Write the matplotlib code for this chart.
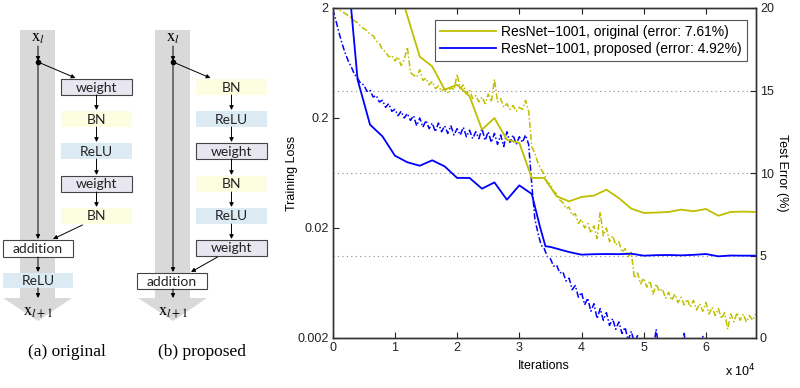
import numpy as np
import matplotlib
matplotlib.use("Agg")
import matplotlib.pyplot as plt
from matplotlib.patches import Rectangle, Polygon

# ---------------- data ----------------
# test error (%) — right axis, sampled every 2000 iterations (x in units of 1e4)
orig_err_x = [0.8, 1.0, 1.4, 1.6, 1.8, 2.0, 2.2, 2.4, 2.6, 2.8, 3.0, 3.2, 3.4, 3.6, 3.8,
              4.0, 4.2, 4.4, 4.6, 4.8, 5.0, 5.2, 5.4, 5.6, 5.8, 6.0, 6.2, 6.4, 6.6, 6.8]
orig_err = [26.0, 22.0, 17.05, 16.46, 15.05, 15.35, 14.65, 12.63, 13.33, 12.02, 11.82, 9.70,
            9.70, 8.59, 8.28, 8.55, 8.63, 8.99, 8.48, 7.84, 7.58, 7.60, 7.64, 7.78, 7.68,
            7.82, 7.41, 7.64, 7.66, 7.64]
prop_err_x = [0.2, 0.4, 0.6, 0.8, 1.0, 1.2, 1.4, 1.6, 1.8, 2.0, 2.2, 2.4, 2.6, 2.8, 3.0,
              3.2, 3.33, 3.42, 3.5, 3.8, 4.0, 4.2, 4.4, 4.6, 4.8, 5.0, 5.2, 5.4, 5.6, 5.8,
              6.0, 6.2, 6.4, 6.6, 6.8]
prop_err = [24.0, 15.66, 12.93, 12.22, 11.05, 10.65, 10.44, 10.77, 10.40, 9.70, 9.70, 9.05,
            9.43, 8.38, 9.25, 8.73, 6.77, 5.56, 5.52, 5.21, 5.05, 5.08, 5.09, 5.08, 5.11,
            4.99, 5.02, 5.03, 5.01, 5.04, 5.09, 4.95, 5.00, 4.99, 4.99]

# training loss — left (log) axis, every 500 iterations
loss_iters = np.arange(137) * 500
orig_loss = [2.10, 2.00, 1.93, 1.86, 1.78, 1.70, 1.63, 1.52, 1.47, 1.36,
             1.30, 1.25, 1.15, 1.12, 1.00, 0.95, 0.84, 0.80, 0.72, 0.74,
             0.66, 0.72, 0.60, 0.68, 0.88, 0.52, 0.49, 0.47, 0.55, 0.44,
             0.46, 0.40, 0.43, 0.37, 0.39, 0.35, 0.37, 0.34, 0.38, 0.36,
             0.50, 0.37, 0.40, 0.33, 0.36, 0.30, 0.32, 0.28, 0.31, 0.27,
             0.33, 0.28, 0.45, 0.28, 0.30, 0.25, 0.27, 0.24, 0.26, 0.23,
             0.25, 0.24, 0.29, 0.23, 0.11, 0.095, 0.078, 0.068, 0.062, 0.052,
             0.050, 0.043, 0.041, 0.036, 0.034, 0.030, 0.031, 0.026, 0.027, 0.022,
             0.024, 0.020, 0.022, 0.018, 0.021, 0.016, 0.028, 0.017, 0.020, 0.015,
             0.017, 0.014, 0.015, 0.012, 0.013, 0.011, 0.012, 0.0070, 0.0078, 0.0062,
             0.0070, 0.0058, 0.0066, 0.0050, 0.0062, 0.0053, 0.0056, 0.0046, 0.0052, 0.0044,
             0.0050, 0.0042, 0.0047, 0.0040, 0.0045, 0.0038, 0.0044, 0.0036, 0.0041, 0.0035,
             0.0042, 0.0033, 0.0038, 0.0032, 0.0037, 0.0030, 0.0034, 0.0024, 0.0033, 0.0028,
             0.0034, 0.0029, 0.0033, 0.0028, 0.0032, 0.0029, 0.0033]
prop_loss = [1.95, 1.55, 1.20, 0.95, 0.78, 0.66, 0.58, 0.50, 0.46, 0.41,
             0.40, 0.35, 0.36, 0.31, 0.32, 0.28, 0.29, 0.25, 0.27, 0.23,
             0.24, 0.21, 0.23, 0.20, 0.22, 0.19, 0.21, 0.17, 0.20, 0.165,
             0.19, 0.16, 0.18, 0.15, 0.18, 0.15, 0.17, 0.145, 0.17, 0.14,
             0.16, 0.14, 0.165, 0.135, 0.155, 0.13, 0.15, 0.13, 0.16, 0.125,
             0.15, 0.12, 0.145, 0.115, 0.14, 0.11, 0.15, 0.12, 0.14, 0.115,
             0.135, 0.12, 0.14, 0.115, 0.05, 0.024, 0.018, 0.014, 0.013, 0.011,
             0.0105, 0.0090, 0.0092, 0.0078, 0.0080, 0.0066, 0.0070, 0.0055, 0.0060, 0.0047,
             0.0052, 0.0040, 0.0046, 0.0035, 0.0041, 0.0030, 0.0037, 0.0029, 0.0034, 0.0026,
             0.0030, 0.0024, 0.0028, 0.0022, 0.0025, 0.0019, 0.0023, 0.0018, 0.0021, 0.0017,
             0.0019, 0.0016, 0.0018, 0.0015, 0.0024, 0.0015, 0.0017, 0.0014, 0.0016, 0.0013,
             0.0016, 0.0013, 0.0015, 0.0022, 0.0014, 0.0012, 0.0015, 0.0012, 0.0014, 0.0021,
             0.0013, 0.0011, 0.0014, 0.0011, 0.0013, 0.0011, 0.0013, 0.0010, 0.0012, 0.0010,
             0.0012, 0.0010, 0.0012, 0.0010, 0.0011, 0.0010, 0.0011]

x_ticks = [0, 1, 2, 3, 4, 5, 6]
loss_ticks = [0.002, 0.02, 0.2, 2]
loss_ticklabels = ["0.002", "0.02", "0.2", "2"]
err_ticks = [0, 5, 10, 15, 20]
legend_labels = ["ResNet\u22121001, original (error: 7.61%)",
                 "ResNet\u22121001, proposed (error: 4.92%)"]

YEL = "#bfbf00"
BLU = "#0000ff"

W, H = 800, 388
fig = plt.figure(figsize=(W / 100, H / 100), dpi=100)

# ---------------- diagrams (pixel coordinates) ----------------
dax = fig.add_axes([0, 0, 1, 1])
dax.set_xlim(0, W)
dax.set_ylim(H, 0)
dax.axis("off")

SHAFT = "#d9d9d9"
C_W = "#e8e6f0"
C_BN = "#fdfde2"
C_RE = "#dcebf3"
boxfont = dict(family="Lato", fontsize=10, color="#222222", ha="center", va="center")


def arrow(x0, y0, x1, y1):
    dax.annotate("", xy=(x1, y1), xytext=(x0, y0),
                 arrowprops=dict(arrowstyle="-|>", lw=0.7, color="k",
                                 mutation_scale=6, shrinkA=0, shrinkB=0))


def box(x0, x1, y0, y1, kind):
    col = {"weight": C_W, "BN": C_BN, "ReLU": C_RE, "addition": "white"}[kind]
    edge = kind in ("weight", "addition")
    dax.add_patch(Rectangle((x0, y0), x1 - x0, y1 - y0, facecolor=col,
                            edgecolor="#444444" if edge else "none", lw=0.8))
    dax.text((x0 + x1) / 2, (y0 + y1) / 2 + 0.5, kind, **boxfont)


def diagram(dx, kinds, caption):
    cx = 38 + dx
    # shaft + big arrow head
    dax.add_patch(Rectangle((20 + dx, 30), 35, 268, facecolor=SHAFT, edgecolor="none"))
    dax.add_patch(Polygon([(3 + dx, 298), (72 + dx, 298), (cx, 321)],
                          closed=True, facecolor=SHAFT, edgecolor="none"))
    dax.text(cx, 37, r"$\mathrm{x}_{l}$", ha="center", va="center", fontsize=12,
             math_fontfamily="stix")
    dax.text(cx, 311, r"$\mathrm{x}_{l+1}$", ha="center", va="center", fontsize=12,
             math_fontfamily="stix")
    dax.text(cx + 29, 352, caption, ha="center", va="center", fontsize=12.5,
             family="Liberation Serif")
    arrow(cx, 46, cx, 61)
    dax.plot([cx], [62], "o", color="k", ms=3)
    bx0, bx1 = 61 + dx, 132 + dx
    bxc = (bx0 + bx1) / 2
    arrow(cx, 62, bxc - 21, 78)
    ys = [79, 111, 143, 176, 208, 240]
    for i, k in enumerate(kinds):
        box(bx0, bx1, ys[i], ys[i] + 16, k)
        if i > 0:
            arrow(bxc, ys[i - 1] + 16, bxc, ys[i] - 1)
    return cx, bxc, ys[len(kinds) - 1] + 16


# (a) original
cx, bxc, yb = diagram(0, ["weight", "BN", "ReLU", "weight", "BN"], "(a) original")
box(3, 73, 240, 257, "addition")
arrow(cx, 62, cx, 239)
arrow(bxc - 14, yb + 1, cx + 15, 239)
box(3, 73, 273, 288, "ReLU")
arrow(cx, 257, cx, 272)
arrow(cx, 288, cx, 298)

# (b) proposed
cx, bxc, yb = diagram(135, ["BN", "ReLU", "weight", "BN", "ReLU", "weight"], "(b) proposed")
box(137, 207, 273, 289, "addition")
arrow(cx, 62, cx, 272)
arrow(bxc - 14, yb + 1, cx + 18, 272)
arrow(cx, 289, cx, 298)

# ---------------- chart ----------------
plt.rcParams["font.family"] = ["Liberation Sans", "DejaVu Sans"]
ax = fig.add_axes([332.7 / W, 50 / H, 423 / W, 330 / H])
ax2 = ax.twinx()

ax.set_yscale("log")
ax.set_ylim(0.002, 2)
ax.set_xlim(0, 68000)
ax.plot(loss_iters, orig_loss, color=YEL, lw=1.1, ls=(0, (4, 1.5, 1, 1.5)))
ax.plot(loss_iters, prop_loss, color=BLU, lw=1.1, ls=(0, (4, 1.5, 1, 1.5)))

ax2.set_ylim(0, 20)
for g in [5, 10, 15]:
    ax2.axhline(g, color="#888888", lw=0.8, ls=(0, (1, 3)), zorder=0)
l1, = ax2.plot(np.array(orig_err_x) * 1e4, orig_err, color=YEL, lw=1.3)
l2, = ax2.plot(np.array(prop_err_x) * 1e4, prop_err, color=BLU, lw=1.3)

ax.set_xticks([t * 1e4 for t in x_ticks])
ax.set_xticklabels([str(t) for t in x_ticks])
ax.set_yticks(loss_ticks)
ax.set_yticklabels(loss_ticklabels)
ax.yaxis.set_minor_locator(matplotlib.ticker.NullLocator())
ax2.set_yticks(err_ticks)
ax2.set_yticklabels([str(t) for t in err_ticks])

for a in (ax, ax2):
    a.tick_params(direction="in", length=4, width=0.8, labelsize=9, colors="#222222",
                  top=True, pad=3)
    for s in a.spines.values():
        s.set_color("#333333")
        s.set_linewidth(1.0)

ax.set_xlabel("Iterations", fontsize=9, labelpad=4)
ax.set_ylabel("Training Loss", fontsize=9)
ax.yaxis.set_label_coords(-0.082, 0.5)
ax2.set_ylabel("Test Error (%)", fontsize=9, rotation=270, va="center")
ax2.yaxis.set_label_coords(1.062, 0.5)
fig.text(740 / W, 1 - 371 / H, r"x 10$^4$", fontsize=9, ha="center", va="center")

leg = ax2.legend([l1, l2], legend_labels, loc="upper right", fontsize=10,
                 bbox_to_anchor=(0.995, 0.985), handlelength=4.0, fancybox=False,
                 framealpha=1, borderpad=0.35, labelspacing=0.25, handletextpad=0.4)
leg.get_frame().set_edgecolor("#555555")
leg.get_frame().set_linewidth(0.8)

fig.savefig("out.png", dpi=100)
